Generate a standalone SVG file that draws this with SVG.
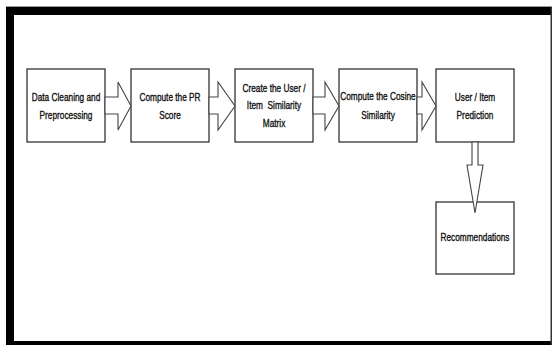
<svg xmlns="http://www.w3.org/2000/svg" width="553" height="345" viewBox="0 0 553 345">
<style>
.box{fill:#fff;stroke:#333;stroke-width:1.3}
.arr{fill:#fff;stroke:#444;stroke-width:1.1;stroke-linejoin:miter}
.lbl{font-family:"Liberation Sans",Arial,sans-serif;font-size:11.5px;fill:#111;stroke:#111;stroke-width:0.35;text-anchor:middle}
.frame{fill:none;stroke:#999;stroke-width:1}
</style>
<rect x="0" y="0" width="553" height="345" fill="#fff"/>
<g id="frame">
<rect class="frame" x="6.5" y="6.5" width="545" height="338"/>
<rect x="6" y="7" width="546" height="8" fill="#000"/>
<rect x="6" y="7" width="8" height="338" fill="#000"/>
<rect x="6" y="341" width="546" height="4" fill="#000"/>
<rect x="550.5" y="7" width="1.5" height="338" fill="#333"/>
</g>
<g id="n1">
<rect class="box" x="27" y="69" width="78" height="73"/>
<text class="lbl" transform="translate(66,101) scale(0.72,1)">Data Cleaning and</text>
<text class="lbl" transform="translate(66,118.5) scale(0.72,1)">Preprocessing</text>
</g>
<g id="n2">
<rect class="box" x="131" y="69" width="78" height="73"/>
<text class="lbl" transform="translate(170,101) scale(0.72,1)">Compute the PR</text>
<text class="lbl" transform="translate(170,118.5) scale(0.72,1)">Score</text>
</g>
<g id="n3">
<rect class="box" x="235" y="69" width="78" height="73"/>
<text class="lbl" transform="translate(274,91.5) scale(0.72,1)">Create the User /</text>
<text class="lbl" style="white-space:pre" transform="translate(274,109) scale(0.72,1)">Item  Similarity</text>
<text class="lbl" transform="translate(274,127) scale(0.72,1)">Matrix</text>
</g>
<g id="n4">
<rect class="box" x="339" y="69" width="78" height="73"/>
<text class="lbl" transform="translate(378,99.5) scale(0.72,1)">Compute the Cosine</text>
<text class="lbl" transform="translate(378,118.5) scale(0.72,1)">Similarity</text>
</g>
<g id="n5">
<rect class="box" x="436" y="69" width="78" height="73"/>
<text class="lbl" transform="translate(475,100.5) scale(0.72,1)">User / Item</text>
<text class="lbl" transform="translate(475,118.5) scale(0.72,1)">Prediction</text>
</g>
<g id="n6">
<rect class="box" x="436" y="202" width="78" height="72"/>
<text class="lbl" transform="translate(475,241) scale(0.72,1)">Recommendations</text>
</g>
<g id="connectors">
<polygon class="arr" points="105,97 118,97 118,82 131,106 118,130 118,114 105,114"/>
<polygon class="arr" points="209,97 218,97 218,82 235,106 218,130 218,114 209,114"/>
<polygon class="arr" points="313,97 325,97 325,82 339,106 325,130 325,114 313,114"/>
<polygon class="arr" points="417,97 422,97 422,82 436,106 422,130 422,114 417,114"/>
<polygon class="arr" points="472,142 472,165 467,165 475,213 483,165 478,165 478,142"/>
</g>
</svg>
